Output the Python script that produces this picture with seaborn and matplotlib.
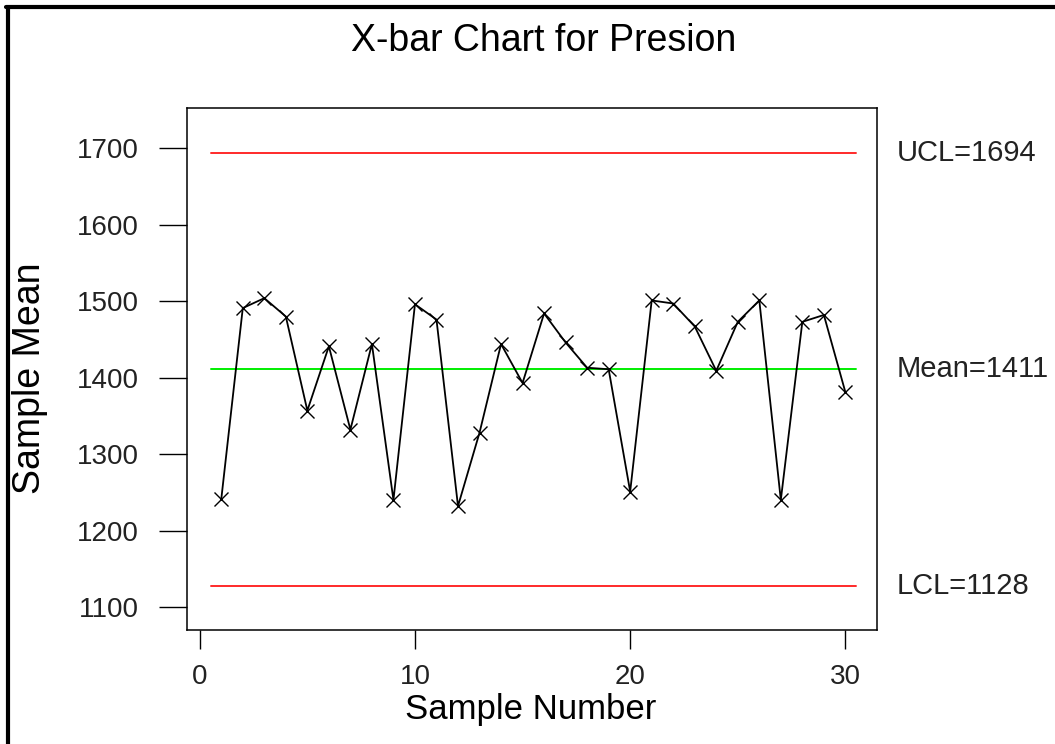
import matplotlib
matplotlib.use("Agg")
import matplotlib.pyplot as plt
import seaborn as sns
import pandas as pd
from matplotlib.lines import Line2D

samples = list(range(1, 31))
means = [1241, 1491, 1504, 1480, 1357, 1441, 1332, 1444, 1240, 1496,
         1476, 1232, 1328, 1444, 1393, 1484, 1446, 1413, 1411, 1251,
         1501, 1497, 1467, 1409, 1473, 1501, 1240, 1473, 1482, 1381]
ucl = 1694
center = 1411
lcl = 1128
x_ticks = [0, 10, 20, 30]
y_ticks = [1100, 1200, 1300, 1400, 1500, 1600, 1700]

sns.set_theme(style="white")
plt.rcParams['font.family'] = ['Liberation Sans', 'DejaVu Sans']

fig = plt.figure(figsize=(10.55, 7.44), dpi=100)
ax = fig.add_axes([0.1775, 0.1528, 0.6538, 0.702])

df = pd.DataFrame({"Sample Number": samples, "Sample Mean": means})

ax.plot([0.5, 30.5], [ucl, ucl], color="#ff2a2a", lw=1.4, zorder=1)
ax.plot([0.5, 30.5], [lcl, lcl], color="#ff2a2a", lw=1.4, zorder=1)
ax.plot([0.5, 30.5], [center, center], color="#00ee00", lw=1.4, zorder=1)

sns.lineplot(data=df, x="Sample Number", y="Sample Mean", ax=ax, color="black",
             lw=1.3, marker="x", markersize=10, markeredgewidth=1.0,
             markeredgecolor="black", zorder=3)

ax.set_xlim(-0.58, 31.47)
ax.set_ylim(1069.5, 1752.7)
ax.set_xticks(x_ticks)
ax.set_yticks(y_ticks)
ax.tick_params(axis="y", direction="out", length=20, width=1.0, pad=15,
               labelsize=20, colors="black", left=True)
ax.tick_params(axis="x", direction="out", length=14, width=1.0, pad=10,
               labelsize=20, colors="black", bottom=True)
for lab in ax.get_xticklabels() + ax.get_yticklabels():
    lab.set_color("#222222")
for s in ax.spines.values():
    s.set_color("black")
    s.set_linewidth(1.1)

ax.set_xlabel("Sample Number", fontsize=25, color="black", va="center")
ax.xaxis.set_label_coords(0.498, -0.152)
ax.set_ylabel("Sample Mean", fontsize=27, color="black", va="center")
ax.yaxis.set_label_coords(-0.228, 0.483)
fig.text(0.515, 0.945, "X-bar Chart for Presion", ha="center", va="center",
         fontsize=27, color="black")

for val, lab in [(ucl, "UCL=1694"), (center, "Mean=1411"), (lcl, "LCL=1128")]:
    ax.text(1.028, val, lab, transform=ax.get_yaxis_transform(), ha="left",
            va="center", fontsize=21, color="#222222")

fig.add_artist(Line2D([8 / 1055, 8 / 1055], [0, 1 - 7 / 744], color="black",
                      lw=3, transform=fig.transFigure))
fig.add_artist(Line2D([6 / 1055, 1], [1 - 7 / 744, 1 - 7 / 744], color="black",
                      lw=3, transform=fig.transFigure))

fig.savefig("out.png", dpi=100, facecolor="white")
